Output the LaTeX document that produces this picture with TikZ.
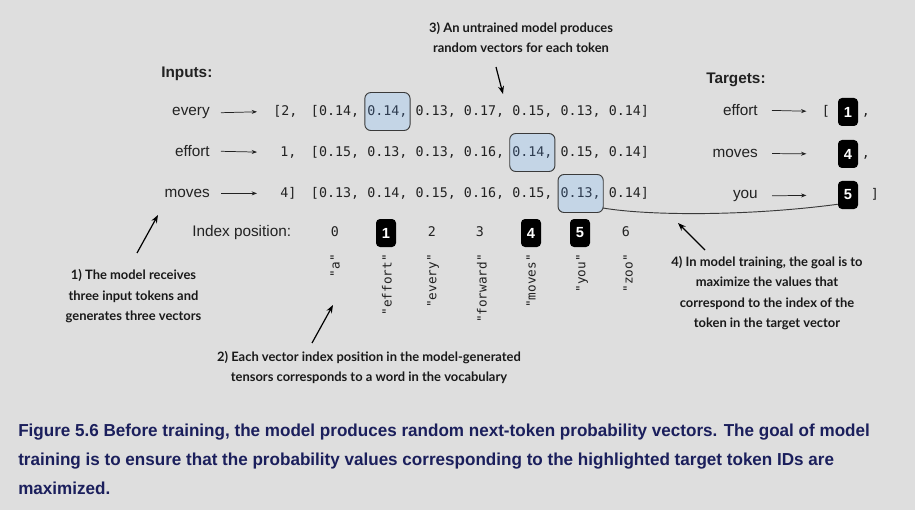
\documentclass[tikz,border=0pt]{standalone}
\usepackage{fontspec}
\setmainfont{Liberation Sans}
\newfontfamily\monof{DejaVu Sans Mono}
\newfontfamily\annf{Lato}
\newfontfamily\capf{Liberation Sans}[FakeStretch=0.985]
\usetikzlibrary{arrows.meta,calc}
\definecolor{bg}{HTML}{DEDEDE}
\definecolor{txt}{HTML}{222222}
\definecolor{hlfill}{HTML}{C4D5E6}
\definecolor{hldraw}{HTML}{3A3A3A}
\definecolor{hltxt}{HTML}{2E3C50}
\definecolor{capc}{HTML}{1B1F5C}
\begin{document}
\begin{tikzpicture}[x=0.75pt,y=-0.75pt,
  lbl/.style={font=\fontsize{11.5}{13}\selectfont, text=txt, inner sep=0pt},
  headtxt/.style={font=\fontsize{11.5}{13}\selectfont\bfseries, text=txt, inner sep=0pt},
  mono/.style={font=\monof\fontsize{10}{12}\selectfont, text=txt, inner sep=0pt},
  vec/.style={mono, anchor=mid},
  hl/.style={vec, text=hltxt, fill=hlfill, draw=hldraw, line width=0.7pt, rounded corners=4.5pt, inner xsep=1.9pt, minimum height=28.5pt},
  pickstyle/.code={\ifnum#1=\hlidx\relax\pgfkeysalso{hl}\else\pgfkeysalso{vec}\fi},
  vocab/.style={font=\monof\fontsize{9.5}{11}\selectfont, text=txt, inner sep=0pt, rotate=90, anchor=east},
  blk/.style={fill=black, rounded corners=3pt, minimum width=15pt, minimum height=21pt, text=white, font=\fontsize{11}{13}\selectfont\bfseries, inner sep=0pt},
  ann/.style={font=\annf\bfseries\fontsize{9.7}{15.4}\selectfont, align=center, text=black!90, inner sep=0pt},
  captxt/.style={font=\capf\bfseries\fontsize{13}{15}\selectfont, text=capc, anchor=mid west, inner sep=0pt},
  arr/.style={-{Stealth[length=4pt,width=3pt]}, line width=0.55pt, draw=txt},
  callout/.style={-{Stealth[length=6pt,width=4.5pt]}, line width=0.9pt, draw=black},
  conn/.style={line width=0.7pt, draw=hldraw}
]
\fill[bg] (0,0) rectangle (915,510);
\useasboundingbox (0,0) rectangle (915,510);

% headings
\node[headtxt, anchor=mid west] (inputs) at (161,74) {Inputs:};
\node[headtxt, anchor=mid west] (targets) at (706,80) {Targets:};

% input words
\node[lbl, anchor=mid east] (in1) at (210,112) {every};
\node[lbl, anchor=mid east] (in2) at (210,153) {effort};
\node[lbl, anchor=mid east] (in3) at (210,194) {moves};

% token ids
\node[mono, anchor=mid west] (id1) at (273,112) {[2,};
\node[mono, anchor=mid west] (id2) at (280,153) {1,};
\node[mono, anchor=mid west] (id3) at (280,194) {4]};

\draw[arr, shorten <=8.25pt, shorten >=12pt] (in1.east) -- (id1.west);
\draw[arr, shorten <=8.25pt, shorten >=17.25pt] (in2.east) -- (id2.west);
\draw[arr, shorten <=8.25pt, shorten >=17.25pt] (in3.east) -- (id3.west);

% probability vectors
\foreach \r/\y/\h/\vals in {1/112/1/{0.14,0.14,0.13,0.17,0.15,0.13,0.14},
                            2/153/4/{0.15,0.13,0.13,0.16,0.14,0.15,0.14},
                            3/194/5/{0.13,0.14,0.15,0.16,0.15,0.13,0.14}}{
  \def\hlidx{\h}
  \foreach \v [count=\i from 0] in \vals {
    \node[pickstyle=\i] (v\r-\i) at ({339.15+48.3*\i},\y) {\v\ifnum\i=6 ]\else,\fi};
  }
  \node[mono, anchor=mid east] (lb\r) at (319.05,\y) {[};
}

% targets
\node[lbl, anchor=mid east] (t1) at (758,112) {effort};
\node[lbl, anchor=mid east] (t2) at (758,154) {moves};
\node[lbl, anchor=mid east] (t3) at (758,195) {you};
\node[blk] (b1) at (848,112) {1};
\node[blk] (b2) at (848,154) {4};
\node[blk] (b3) at (848,195) {5};
\draw[arr, shorten <=10.5pt, shorten >=23.5pt] (t1.east) -- (b1.west);
\draw[arr, shorten <=10.5pt, shorten >=23.5pt] (t2.east) -- (b2.west);
\draw[arr, shorten <=10.5pt, shorten >=23.5pt] (t3.east) -- (b3.west);
\node[mono, anchor=mid] (tlb) at (826,112) {[};
\node[mono, anchor=mid] (tc1) at (866,112) {,};
\node[mono, anchor=mid] (tc2) at (866,154) {,};
\node[mono, anchor=mid] (trb) at (875,195) {]};

% connector from highlighted value to target
\draw[conn] ($(v3-5.south east)+(-1,-5)$) .. controls (650,216) and (750,216) .. ($(b3.south west)+(0,-5)$);

% index row
\node[lbl, anchor=mid west] (idxlbl) at (192,233) {Index position:};
\node[mono, anchor=mid] (ix0) at (335,233) {0};
\node[blk] (ix1) at (386,233) {1};
\node[mono, anchor=mid] (ix2) at (432,233) {2};
\node[mono, anchor=mid] (ix3) at (480,233) {3};
\node[blk] (ix4) at (531,233) {4};
\node[blk] (ix5) at (580,233) {5};
\node[mono, anchor=mid] (ix6) at (626,233) {6};

\foreach \w/\x [count=\i from 0] in {a/335, effort/387, every/433, forward/482, moves/531, you/582, zoo/628}
  \node[vocab] (w\i) at (\x,254) {"\w"};

% annotations
\node[ann] (a1) at (133.5,296.5) {1) The model receives\\three input tokens and\\generates three vectors};
\node[ann] (a2) at (369,367.5) {2) Each vector index position in the model-generated\\tensors corresponds to a word in the vocabulary};
\node[ann] (a3) at (521,37.5) {3) An untrained model produces\\random vectors for each token};
\node[ann] (a4) at (767,293) {4) In model training, the goal is to\\maximize the values that\\correspond to the index of the\\token in the target vector};

\coordinate (c1s) at (137,253); \coordinate (c1e) at (158,215);
\coordinate (c2s) at (312,343); \coordinate (c2e) at (333,305);
\coordinate (c3s) at (496,67);  \coordinate (c3e) at (503,94);
\coordinate (c4s) at (705,250); \coordinate (c4e) at (678,223);
\draw[callout] (c1s) -- (c1e);
\draw[callout] (c2s) -- (c2e);
\draw[callout] (c3s) -- (c3e);
\draw[callout] (c4s) -- (c4e);

% caption
\node[captxt] (cap1) at (18,433) {Figure 5.6 Before training, the model produces random next-token probability vectors. The goal of model};
\node[captxt] (cap2) at (18,462) {training is to ensure that the probability values corresponding to the highlighted target token IDs are};
\node[captxt] (cap3) at (18,491) {maximized.};
\end{tikzpicture}
\end{document}
